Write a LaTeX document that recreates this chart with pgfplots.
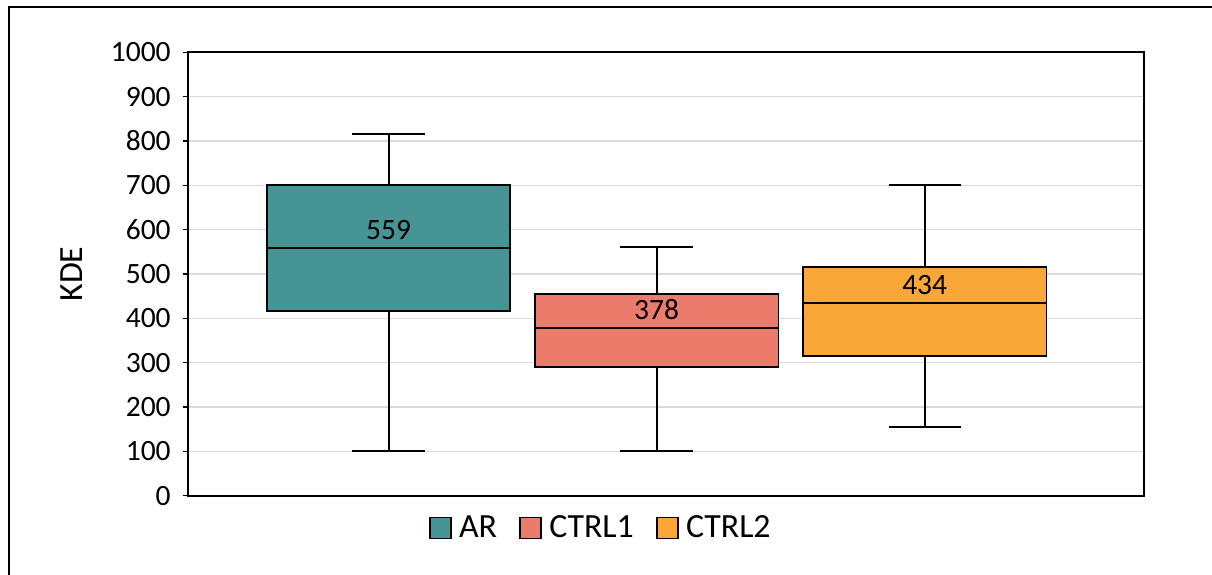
\documentclass[border=0pt]{standalone}
\usepackage{fontspec}
\setmainfont{Carlito}
\usepackage{pgfplots}
\pgfplotsset{compat=1.18}
\usepgfplotslibrary{statistics}

\definecolor{arcol}{HTML}{469494}
\definecolor{cacol}{HTML}{EB7B6B}
\definecolor{cbcol}{HTML}{FAA73A}
\definecolor{gridc}{HTML}{D9D9D9}

\begin{document}
\begin{tikzpicture}
\begin{axis}[
  scale only axis,
  width=478.15bp, height=221.7bp,
  xmin=0.2508, xmax=3.818,
  ymin=0, ymax=1000,
  xtick=\empty,
  ytick={0,100,...,1000},
  ymajorgrids,
  major grid style={gridc, line width=0.75bp},
  axis line style={line width=0.9bp},
  tick style={black, line width=0.6bp},
  major tick length=2.5bp,
  tick align=outside,
  ytick pos=left,
  /pgf/number format/assume math mode=true,
  /pgf/number format/1000 sep={},
  yticklabel style={font=\fontsize{14.8}{16}\selectfont, xshift=-2.5bp},
  ylabel={KDE},
  every axis y label/.style={at={(axis description cs:-0.1213,0.5)}, rotate=90, anchor=center,
    font=\fontsize{17}{20}\selectfont},
  boxplot/draw direction=y,
  boxplot/every box/.style={line width=0.9bp},
  boxplot/every whisker/.style={line width=1bp},
  boxplot/every median/.style={line width=0.9bp},
  legend columns=3,
  legend style={draw=none, fill=none, at={(axis description cs:0.4330,-0.0728)}, anchor=center,
    font=\fontsize{17}{20}\selectfont,
    /tikz/every even column/.append style={column sep=9bp}},
  legend cell align=left,
]
% legend swatches
\addlegendimage{legend image code/.code={\draw[fill=arcol, draw=black, line width=0.9bp] (0bp,-5.25bp) rectangle (10.5bp,5.25bp); \path (12.5bp,0bp);}}
\addlegendentry{AR}
\addlegendimage{legend image code/.code={\draw[fill=cacol, draw=black, line width=0.9bp] (0bp,-5.25bp) rectangle (10.5bp,5.25bp); \path (12.5bp,0bp);}}
\addlegendentry{CTRL1}
\addlegendimage{legend image code/.code={\draw[fill=cbcol, draw=black, line width=0.9bp] (0bp,-5.25bp) rectangle (10.5bp,5.25bp); \path (12.5bp,0bp);}}
\addlegendentry{CTRL2}

% AR
\addplot[forget plot, fill=arcol, draw=black, line width=0.9bp,
  boxplot prepared={draw position=1, lower whisker=100, lower quartile=416,
    median=559, upper quartile=700, upper whisker=815,
    box extend=0.909, whisker extend=0.27}] coordinates {};
% CTRL1
\addplot[forget plot, fill=cacol, draw=black, line width=0.9bp,
  boxplot prepared={draw position=2, lower whisker=100, lower quartile=291,
    median=378, upper quartile=454, upper whisker=560,
    box extend=0.909, whisker extend=0.27}] coordinates {};
% CTRL2
\addplot[forget plot, fill=cbcol, draw=black, line width=0.9bp,
  boxplot prepared={draw position=3, lower whisker=155, lower quartile=315,
    median=434, upper quartile=516, upper whisker=700,
    box extend=0.909, whisker extend=0.27}] coordinates {};

% median labels
\node[anchor=base, yshift=4.15bp, font=\fontsize{14.8}{16}\selectfont] at (axis cs:1,559) {559};
\node[anchor=base, yshift=4.15bp, font=\fontsize{14.8}{16}\selectfont] at (axis cs:2,378) {378};
\node[anchor=base, yshift=4.15bp, font=\fontsize{14.8}{16}\selectfont] at (axis cs:3,434) {434};
\end{axis}
% outer frame
\draw[line width=1bp] (-89.35bp,-50bp) -- (-89.35bp,244.35bp) -- (520bp,244.35bp);
\pgfresetboundingbox
\useasboundingbox (-93.85bp,-39.65bp) rectangle (512.15bp,247.85bp);
\end{tikzpicture}
\end{document}
